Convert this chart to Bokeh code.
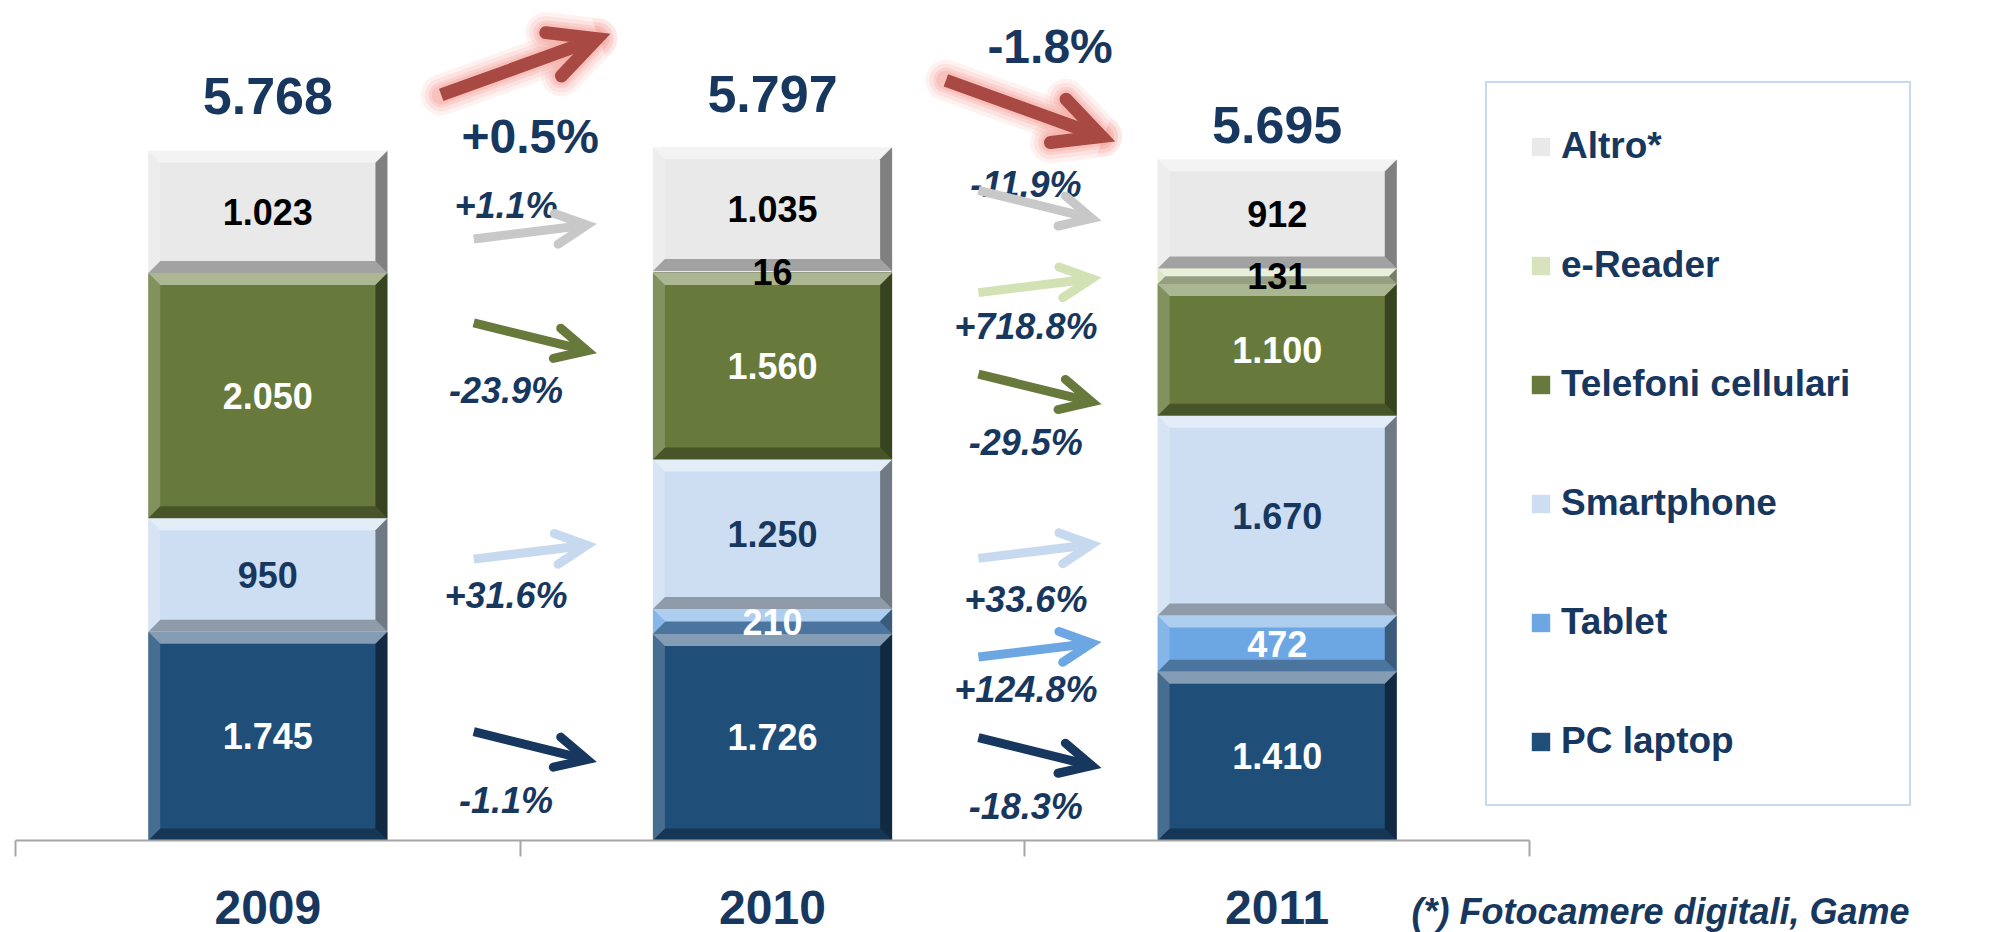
import math
from bokeh.plotting import figure
from bokeh.models import (ColumnDataSource, Range1d, LinearAxis, FixedTicker, Arrow,
                          OpenHead, Legend, LegendItem, Label)
from bokeh.core.properties import value
from bokeh.embed import file_html
from bokeh.resources import INLINE

# ---------------- data ----------------
years = ["2009", "2010", "2011"]
series_names = ["PC laptop", "Tablet", "Smartphone", "Telefoni cellulari", "e-Reader", "Altro*"]
pc_laptop = [1745, 1726, 1410]
tablet = [0, 210, 472]
smartphone = [950, 1250, 1670]
telefoni_cellulari = [2050, 1560, 1100]
e_reader = [0, 16, 131]
altro = [1023, 1035, 912]
totals = [5768, 5797, 5695]
total_change = ["+0.5%", "-1.8%"]
pc_laptop_change = ["-1.1%", "-18.3%"]
tablet_change = [None, "+124.8%"]
smartphone_change = ["+31.6%", "+33.6%"]
telefoni_change = ["-23.9%", "-29.5%"]
e_reader_change = [None, "+718.8%"]
altro_change = ["+1.1%", "-11.9%"]
footnote = "(*)  Fotocamere digitali, Game"

# ---------------- style / layout ----------------
W, H = 1989, 932
PXX = 504.67          # px per category
PXY = 0.1196          # px per unit
X0 = -15 / PXX
X1 = X0 + W / PXX
Y0 = -92 / PXY
Y1 = Y0 + H / PXY
ux, uy = 1 / PXX, 1 / PXY
FONT = value("Liberation Sans")
NAVY = "#17375e"

keys = ["pc", "tablet", "smart", "cell", "ereader", "altro"]
vals = [pc_laptop, tablet, smartphone, telefoni_cellulari, e_reader, altro]
changes = [pc_laptop_change, tablet_change, smartphone_change, telefoni_change,
           e_reader_change, altro_change]
fills = ["#1f4e79", "#6ca7e3", "#cddef2", "#677a3b", "#d6e3bc", "#e9e9e9"]
label_colors = ["white", "white", NAVY, "white", "black", "black"]
arrow_colors = ["#17375e", "#6ca7e3", "#c6d9ee", "#677a3b", "#d3e2b4", "#c8c8c8"]
BAR_W = 0.474

# per-arrow vertical nudges (px, + = down) and label offsets from the arrow (px)
arrow_nudge = {(0, "altro"): 21, (0, "cell"): -43, (0, "smart"): -3, (0, "pc"): 10,
               (1, "altro"): -6, (1, "ereader"): 11, (1, "cell"): 31, (1, "smart"): 26,
               (1, "tablet"): 17, (1, "pc"): 6}
label_off = {(0, "altro"): -26, (0, "cell"): 53, (0, "smart"): 44, (0, "pc"): 54,
             (1, "altro"): -21, (1, "ereader"): 41, (1, "cell"): 53, (1, "smart"): 49,
             (1, "tablet"): 40, (1, "pc"): 54}
total_label_off = [-55, -53, -34]
red_arrow_off = [-84, -43]
red_label_off = [72, -64]


def shorten(x0, y0, x1, y1, px):
    """pull the end point back by px pixels along the arrow direction"""
    dx, dy = (x1 - x0) * PXX, (y1 - y0) * PXY
    L = math.hypot(dx, dy)
    return x1 - dx / L * px * ux, y1 - dy / L * px * uy


xc = [i + 0.5 for i in range(len(years))]

p = figure(width=W, height=H, x_range=Range1d(X0, X1), y_range=Range1d(Y0, Y1),
           output_backend="svg", toolbar_location=None, min_border=0,
           x_axis_location=None, y_axis_location=None)
p.outline_line_color = None
p.grid.visible = False
p.background_fill_color = "white"
p.border_fill_color = "white"

# stacked bars
src = ColumnDataSource(dict(x=xc, **{k: v for k, v in zip(keys, vals)}))
renderers = p.vbar_stack(keys, x="x", width=BAR_W, color=fills, source=src, line_color=None)

# bevel overlays + value labels
bxs, bys, bcol, balpha = [], [], [], []
tx, ty, tt, tc = [], [], [], []
bottoms = [[sum(vals[k][i] for k in range(s)) for i in range(len(years))] for s in range(len(keys))]
for s, k in enumerate(keys):
    for i in range(len(years)):
        v = vals[s][i]
        if v <= 0:
            continue
        b0 = bottoms[s][i]
        t0 = b0 + v
        l, r = xc[i] - BAR_W / 2, xc[i] + BAR_W / 2
        bpx = min(12, v * PXY / 2)
        bx, by = bpx * ux, bpx * uy
        bxs += [[l, r, r - bx, l + bx], [l, r, r - bx, l + bx],
                [l, l, l + bx, l + bx], [r, r, r - bx, r - bx]]
        bys += [[t0, t0, t0 - by, t0 - by], [b0, b0, b0 + by, b0 + by],
                [b0, t0, t0 - by, b0 + by], [b0, t0, t0 - by, b0 + by]]
        bcol += ["white", "black", "white", "black"]
        balpha += [0.45, 0.3, 0.18, 0.45]
        tx.append(xc[i]); ty.append(b0 + v / 2)
        tt.append(f"{v:,}".replace(",", ".")); tc.append(label_colors[s])
p.patches(xs="xs", ys="ys", fill_color="c", fill_alpha="a", line_color=None,
          source=ColumnDataSource(dict(xs=bxs, ys=bys, c=bcol, a=balpha)))
p.text(x="x", y="y", text="t", text_color="c", source=ColumnDataSource(dict(x=tx, y=ty, t=tt, c=tc)),
       text_font=FONT, text_font_style="bold", text_font_size="36px",
       text_align="center", text_baseline="middle")

# totals
p.text(x="x", y="y", text="t", y_offset="o",
       source=ColumnDataSource(dict(x=xc, y=totals, t=[f"{v:,}".replace(",", ".") for v in totals],
                                    o=total_label_off)),
       text_font=FONT, text_font_style="bold", text_font_size="52px", text_color=NAVY,
       text_align="center", text_baseline="middle")

# series change arrows
px_, py_, pt_ = [], [], []
for s, k in enumerate(keys):
    for t in range(len(years) - 1):
        ch = changes[s][t]
        if ch is None:
            continue
        c1 = bottoms[s][t] + vals[s][t] / 2
        c2 = bottoms[s][t + 1] + vals[s][t + 1] / 2
        mid = (c1 + c2) / 2 - arrow_nudge[(t, k)] * uy
        if ch.startswith("+"):
            ys, ye = mid - 7.5 * uy, mid + 7.5 * uy
        else:
            ys, ye = mid + 15 * uy, mid - 15 * uy
        xs0, xe0 = t + 0.908, t + 1.150
        xe, ye = shorten(xs0, ys, xe0, ye, 9)
        p.add_layout(Arrow(x_start=xs0, y_start=ys, x_end=xe, y_end=ye,
                           line_color=arrow_colors[s], line_width=9, line_cap="butt",
                           end=OpenHead(size=31, line_color=arrow_colors[s], line_width=9,
                                        line_cap="round", line_join="miter")))
        px_.append(t + 0.972 + 0.03 * t); py_.append(mid - label_off[(t, k)] * uy); pt_.append(ch)
p.text(x="x", y="y", text="t", source=ColumnDataSource(dict(x=px_, y=py_, t=pt_)),
       text_font=FONT, text_font_style="bold italic", text_font_size="36px", text_color=NAVY,
       text_align="center", text_baseline="middle")

# total change arrows (red, with glow)
rx, ry, rt = [], [], []
for t in range(len(years) - 1):
    mx = t + 1.008
    my = (totals[t] + totals[t + 1]) / 2 - red_arrow_off[t] * uy
    sgn = 1 if total_change[t].startswith("+") else -1
    xs_, xe_ = mx - 83 * ux, mx + 83 * ux
    ys_, ye_ = my - sgn * 30 * uy, my + sgn * 30 * uy
    xe_, ye_ = shorten(xs_, ys_, xe_, ye_, 11)
    for gw, ga in [(28, 0.15), (20, 0.2), (12, 0.3), (6, 0.4)]:
        p.add_layout(Arrow(x_start=xs_, y_start=ys_, x_end=xe_, y_end=ye_,
                           line_color="#f6a9a3", line_alpha=ga, line_width=13 + gw, line_cap="round",
                           end=OpenHead(size=46, line_color="#f6a9a3", line_alpha=ga,
                                        line_width=13 + gw, line_cap="round", line_join="round")))
    p.add_layout(Arrow(x_start=xs_, y_start=ys_, x_end=xe_, y_end=ye_,
                       line_color="#a84a43", line_width=13, line_cap="butt",
                       end=OpenHead(size=46, line_color="#a84a43", line_width=13,
                                    line_cap="round", line_join="miter")))
    rx.append(t + 1.02 + (0.03 if sgn < 0 else 0)); ry.append(my - red_label_off[t] * uy)
    rt.append(total_change[t])
p.text(x="x", y="y", text="t", source=ColumnDataSource(dict(x=rx, y=ry, t=rt)),
       text_font=FONT, text_font_style="bold", text_font_size="48px", text_color=NAVY,
       text_align="center", text_baseline="middle")

# x axis at the baseline with ticks between categories, plus year labels
ax = LinearAxis(fixed_location=0, ticker=FixedTicker(ticks=list(range(len(years) + 1))),
                bounds=(0, len(years)),
                axis_line_color="#a6a6a6", axis_line_width=2,
                major_tick_line_color="#a6a6a6", major_tick_line_width=2,
                major_tick_out=16, major_tick_in=0, minor_tick_line_color=None,
                major_label_text_color=None)
p.add_layout(ax, "below")
yax = LinearAxis(fixed_location=0, ticker=FixedTicker(ticks=xc),
                 axis_line_color=None, major_tick_line_color=None, minor_tick_line_color=None,
                 major_tick_out=0, major_tick_in=0,
                 major_label_overrides={x: y for x, y in zip(xc, years)},
                 major_label_standoff=50, major_label_text_font="Liberation Sans",
                 major_label_text_font_style="bold", major_label_text_font_size="48px",
                 major_label_text_color=NAVY)
p.add_layout(yax, "below")

# legend
items = [LegendItem(label=n, renderers=[r]) for n, r in zip(series_names, renderers)][::-1]
legend = Legend(items=items, location=(1485, 126), orientation="vertical",
                label_text_font="Liberation Sans", label_text_font_style="bold",
                label_text_font_size="37px", label_text_color=NAVY,
                glyph_width=23, glyph_height=23, label_height=40, label_width=306,
                spacing=77, padding=42, label_standoff=9, margin=0,
                border_line_color="#8db3e2", border_line_width=2,
                background_fill_color="white", background_fill_alpha=1)
p.add_layout(legend)

p.add_layout(Label(x=1411, y=21, x_units="screen", y_units="screen", text=footnote,
                   text_font="Liberation Sans", text_font_style="bold italic",
                   text_font_size="36px", text_color=NAVY, text_baseline="alphabetic"))

open("out.html", "w").write(file_html(p, INLINE))
